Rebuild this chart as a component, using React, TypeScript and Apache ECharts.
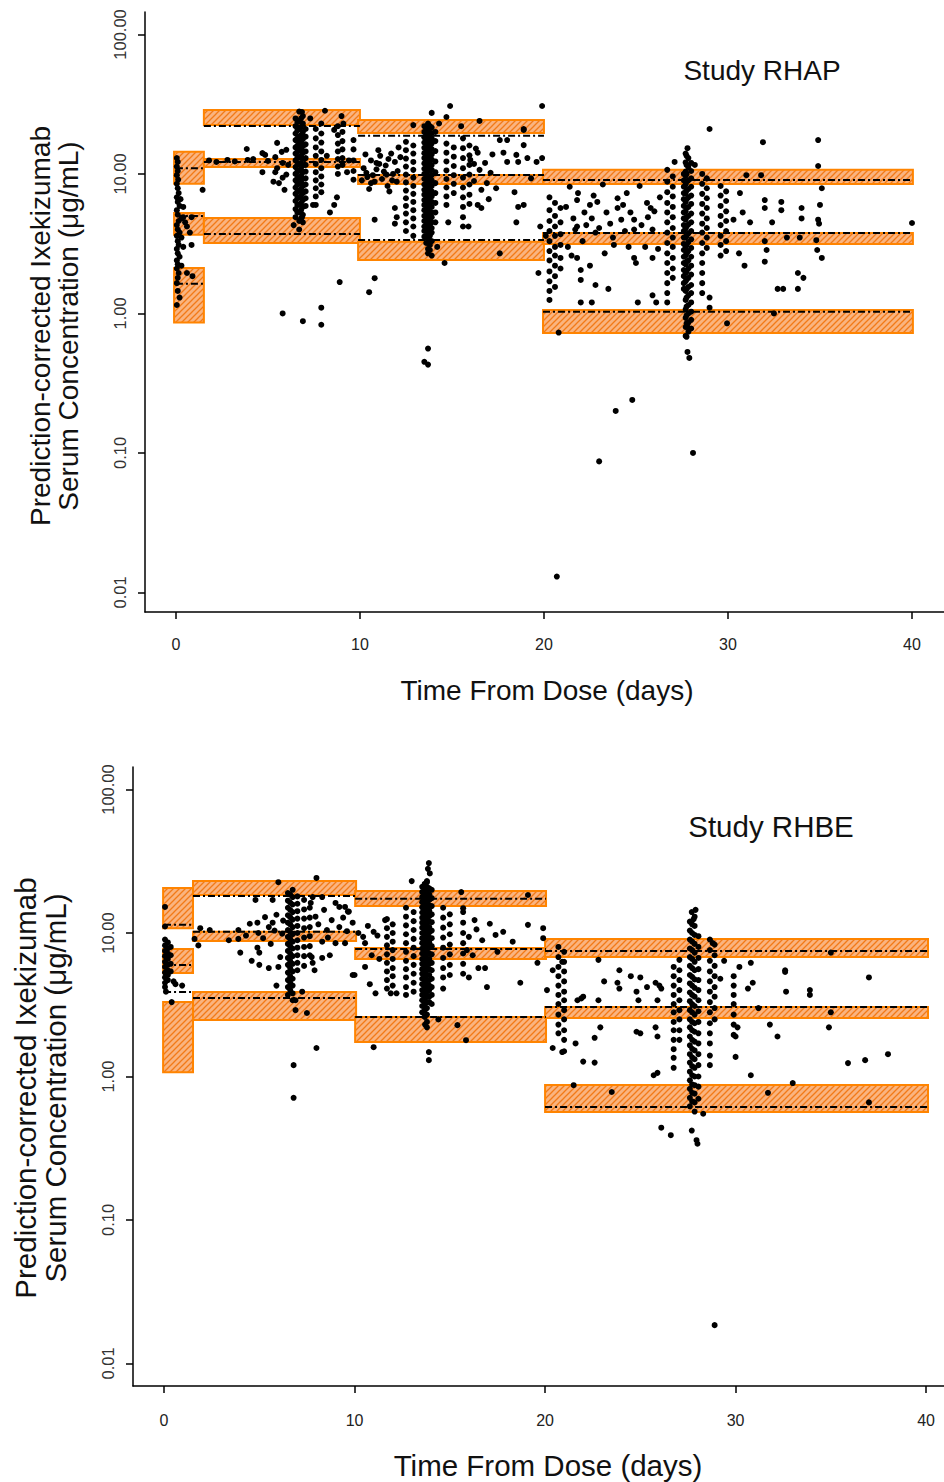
import React, { useEffect, useRef } from "react";
import * as echarts from "echarts";

// ---------- shared axis ticks ----------
const xTickDays = [0, 10, 20, 30, 40];
const yTickConc = [0.01, 0.1, 1, 10, 100];

// ---------- Study RHAP ----------
// prediction-interval bands: [start day, end day, lower conc, upper conc]
const rhapBands = [
  [-0.1, 1.52, 8.5, 14.4], [-0.1, 1.52, 3.66, 5.25], [-0.1, 1.52, 0.86, 2.12],
  [1.52, 10.0, 22.4, 28.8], [1.52, 10.0, 11.2, 12.8], [1.52, 10.0, 3.2, 4.84],
  [9.9, 20.0, 19.7, 24.4], [9.9, 20.0, 8.48, 9.84], [9.9, 20.0, 2.42, 3.26],
  [19.95, 40.05, 8.48, 10.7], [19.95, 40.05, 3.15, 3.78], [19.95, 40.05, 0.724, 1.06],
];
// observed percentiles: [start day, end day, conc]
const rhapObsLines = [
  [0, 1.52, 11.0], [0, 1.52, 5.0], [0, 1.52, 1.63],
  [1.52, 10.0, 22.1], [1.52, 10.0, 12.2], [1.52, 10.0, 3.71],
  [9.9, 20.0, 18.8], [9.9, 20.0, 9.84], [9.9, 20.0, 3.36],
  [19.95, 40.05, 9.06], [19.95, 40.05, 3.78], [19.95, 40.05, 1.03],
];
// individual observations [day, conc]
const rhapPoints = [
  [0.05,13],[0.1,12.2],[0.05,11.3],[0.1,10.5],[0.05,9.8],[0.12,9.1],[0.05,8.5],[0.1,7.9],[0.15,7.3],[0.05,6.8],[0.1,6.3],[0.2,5.9],[0.05,5.5],[0.1,5.1],[0.3,4.8],[0.15,4.6],[0.05,4.3],[0.5,4.5],[0.1,4.0],[0.2,3.8],[0.05,3.6],[0.3,3.5],[0.1,3.3],[0.15,3.1],[0.05,2.9],[0.1,2.7],[0.2,2.55],[0.05,2.4],[0.1,2.25],[0.05,2.1],[0.15,1.95],[0.1,1.8],[0.05,1.65],[0.6,1.95],[0.9,1.85],[0.05,1.15],[0.4,5.8],[0.4,4.9],[0.85,4.9],[0.76,3.8],[0.85,3.1],[0.4,3.0],[0.25,6.6],[1.45,7.7],[0.1,1.45],[0.2,1.3],[0.6,4.2],[0.3,2.2],
  [1.8,12.5],[2.2,12.2],[2.8,12.6],[3.2,12.3],[3.85,15.1],[3.9,12.6],[4.2,12.8],[4.7,14.1],[4.85,13.7],[4.7,10.3],[5.0,12.4],[5.4,13.2],[5.5,16.7],[5.4,10.3],[5.5,11.0],[5.75,14.4],[5.8,12.0],[5.8,9.4],[5.9,7.7],[6.0,14.9],[5.6,8.6],[6.1,11.6],[6.0,9.9],[5.3,8.8],
  [6.85,27.8],[8.1,28.4],[9.0,26],[7.3,25],[7.9,23],[8.6,20.7],[9.1,23],
  [8.6,6.0],[8.75,6.8],[7.45,6.0],[8.37,5.3],[6.4,4.3],[6.85,4.9],[8.9,1.68],[5.8,1.0],[6.9,0.88],[7.9,1.1],[7.9,0.83],[9.3,10.3],[8.2,13.5],[9.4,12.5],
  [10.2,11],[10.4,9.5],[10.6,12.5],[10.8,8.8],[10.9,10.8],[11.1,13.5],[11.2,9.2],[11.4,11.5],[11.5,8.2],[11.7,14],[11.8,10],[11.9,12.2],[12.0,8.8],[12.1,15.5],[10.5,7.8],[11.0,14.8],[11.6,7.5],[10.3,13.8],
  [10.1,9.0],[10.35,10.2],[10.7,9.8],[11.05,11.8],[11.3,10.4],[11.55,12.8],[11.75,9.0],[12.05,10.5],[12.2,13.2],[10.9,12.0],[11.45,9.9],[10.6,8.6],
  [10.8,4.7],[11.9,5.7],[12.0,4.9],[11.9,4.4],[10.8,1.79],[10.5,1.42],
  [14.9,30.7],[13.9,27.4],[19.9,30.7],[14.7,25.6],[12.9,22.4],[18.9,21],[14.3,23],[16.5,24],[15.5,22],
  [13.7,0.56],[13.5,0.45],[13.7,0.43],[14.6,2.3],[19.7,1.95],[13.8,2.85],[13.9,2.6],[14.2,3.0],
  [17.6,17.5],[18.0,17.5],[18.9,16.1],[18.9,20.7],[19.1,13.0],[18.5,13.7],[17.8,14.2],[18.0,12.2],[18.6,12.2],[19.6,12.2],[19.9,13],[18.4,7.4],[18.9,6.0],[18.6,5.8],[18.5,4.5],[17.6,2.7],[19.8,4.2],[16.9,8.6],[17.1,10.2],[16.5,10.7],[17.4,7.9],[16.4,6.0],[16.6,5.7],[16.4,14.2],[16.0,12.6],[14.8,4.5],[15.9,4.2],[16.6,7.7],[19.3,9.3],
  [16.2,11.8],[16.3,15.2],[16.8,12.0],[17.2,13.8],[17.0,6.6],[16.2,8.9],
  [20.8,0.73],[20.7,0.013],[20.1,3.6],
  [21.4,8.1],[21.85,7.3],[21.8,6.5],[22.5,6.0],[22.9,6.3],[21.6,4.8],[21.8,4.2],[21.7,4.0],[22.6,4.8],[22.8,3.8],[23.4,5.3],[24.0,6.7],[24.0,5.7],[23.75,3.5],[24.2,4.7],[24.5,7.3],[24.7,5.3],[24.9,4.7],[24.9,4.0],[25.6,6.2],[25.8,5.7],[25.65,4.9],[25.9,4.0],[24.9,2.5],[25.0,2.3],[25.9,2.5],[21.8,2.5],[21.5,2.6],[22.0,2.05],[22.0,1.74],[22.5,2.2],[22.8,1.6],[22.0,1.2],[22.6,1.2],[23.5,1.5],[25.1,1.2],[25.9,1.35],[26.1,1.2],[23.2,8.4],[25.2,8.2],[22.2,5.3],[23.8,3.1],
  [22.3,4.3],[23.0,4.1],[23.6,4.4],[24.4,3.9],[25.3,4.3],[26.0,5.4],[21.2,5.8],[22.1,3.3],[23.3,2.7],[24.6,3.0],[25.5,3.0],[26.2,2.9],[21.3,3.0],[26.3,6.8],[24.3,6.0],[22.7,7.0],
  [23.0,0.087],[23.9,0.2],[24.8,0.24],[28.1,0.1],
  [30.65,7.3],[31.0,9.8],[31.2,4.5],[31.8,9.8],[32.0,6.5],[32.0,5.7],[32.1,2.85],[32.0,2.35],[32.0,3.3],[30.9,2.2],[32.4,4.5],[32.9,6.3],[32.9,5.5],[33.2,3.5],[32.7,1.5],[33.0,1.5],[33.8,1.5],[33.8,1.95],[34.1,1.8],[33.9,3.5],[34.0,5.7],[34.0,4.8],[34.8,3.35],[34.85,2.85],[35.1,2.5],[34.9,4.7],[34.95,4.4],[35.0,6.0],[35.1,7.9],[34.9,11.4],[40.0,4.45],[29.95,0.85],[32.5,1.0],[29.0,1.3],[29.0,1.1],[31.9,16.9],[34.9,17.5],[29.0,21],[30.8,5.3],[30.3,4.7],[30.6,2.7],[28.2,11.6],[27.8,15.3],[26.7,10.7],[27.1,12.2],
  [27.8,0.8],[27.75,0.68],[27.8,0.53],[27.9,0.48],
];
// clusters of samples taken at (nearly) the same time: day, concentrations
const rhapClusters = [
  { day: 6.5, conc: [25,22,19.5,17.5,15.5,14,12.5,11.2,10,9,8,7.2,6.4,5.6,4.9] },
  { day: 6.6, conc: [23.5,20.5,18,16,14.4,13,11.6,10.4,9.3,8.4,7.5,6.7,6.0,5.3] },
  { day: 6.7, conc: [28,24,21,18.5,16.5,14.8,13.2,11.8,10.6,9.5,8.5,7.6,6.8,6.0,5.3,4.6,4.0] },
  { day: 6.8, conc: [25,21.8,19,16.9,15,13.5,12,10.8,9.7,8.7,7.8,7.0,6.2,5.5,4.8] },
  { day: 6.9, conc: [26,23,20,17.8,15.8,14.2,12.8,11.5,10.3,9.2,8.2,7.3,6.5,5.8,5.1,4.5] },
  { day: 7.05, conc: [21,18.5,16.3,14.5,13,11.6,10.4,9.3,8.4,7.5,6.7,5.9] },
  { day: 7.6, conc: [21,18,15.5,13.5,11.8,10.3,9.0,7.9,6.9,6.0] },
  { day: 7.9, conc: [19.5,16.8,14.5,12.6,11,9.6,8.4,7.4] },
  { day: 8.8, conc: [22,19,16.5,14.5,12.8,11.3,10] },
  { day: 9.05, conc: [20,17.2,15,13,11.6] },
  { day: 9.65, conc: [17.5,15,12.5,10.5,9.1] },
  { day: 12.5, conc: [17,14.8,12.9,11.3,9.9,8.7,7.6,6.7,5.9,5.2,4.5,3.9] },
  { day: 12.9, conc: [16,14,12.2,10.7,9.4,8.2,7.2,6.3,5.5,4.8,4.2,3.6] },
  { day: 13.5, conc: [22,20,18.3,16.8,15.4,14.1,13,11.9,10.9,10,9.2,8.4,7.7,7.1,6.5,6.0,5.5,5.0,4.6,4.2,3.9,3.55] },
  { day: 13.6, conc: [21,18.8,16.9,15.2,13.7,12.3,11.1,10.1,9.2,8.3,7.6,6.9,6.2,5.6,5.1,4.7,4.3,3.9,3.5,3.2] },
  { day: 13.7, conc: [23,21,19.2,17.6,16.1,14.8,13.6,12.4,11.4,10.5,9.6,8.8,8.1,7.4,6.8,6.2,5.7,5.2,4.8,4.4,4.0,3.7,3.4,2.9,2.7] },
  { day: 13.8, conc: [22,19.8,17.8,15.9,14.3,12.9,11.7,10.6,9.6,8.7,7.9,7.1,6.4,5.8,5.3,4.8,4.3,3.95,3.6,3.1] },
  { day: 13.9, conc: [21.5,19.6,18,16.5,15.1,13.8,12.7,11.6,10.7,9.8,9.0,8.2,7.5,6.9,6.3,5.8,5.3,4.9,4.5,4.1,3.8,3.3] },
  { day: 14.1, conc: [20,17.2,14.6,12.3,10.3,8.6,7.3,6.2,5.3,4.5] },
  { day: 14.7, conc: [16.5,14.2,12.3,10.6,9.2,8.0,6.9,6.0] },
  { day: 15.1, conc: [15.5,13.3,11.4,9.8,8.5,7.3] },
  { day: 15.6, conc: [18,15.3,13,11,9.4,8,6.8,5.8,4.9,4.2] },
  { day: 15.95, conc: [16,13.6,11.6,9.9,8.4,7.1,6.1] },
  { day: 20.3, conc: [6.8,5.5,4.6,3.9,3.3,2.8,2.4,2.0,1.7,1.45,1.25] },
  { day: 20.6, conc: [6.2,5.0,4.2,3.6,3.0,2.6,2.2,1.85,1.55] },
  { day: 20.9, conc: [5.7,4.5,3.7,3.1,2.5,2.1] },
  { day: 26.7, conc: [8.8,7.4,6.2,5.3,4.5,3.8,3.2,2.7,2.3,1.95,1.65,1.4,1.2] },
  { day: 27.0, conc: [9.6,8.1,6.9,5.8,4.9,4.1,3.5,3.0,2.5,2.1,1.8] },
  { day: 27.6, conc: [10,9.0,8.1,7.3,6.6,5.9,5.3,4.8,4.3,3.9,3.5,3.15,2.85,2.55,2.3,2.05,1.85,1.65,1.5] },
  { day: 27.7, conc: [14,12.1,10.4,9.7,8.4,7.3,6.3,5.4,4.7,4.05,3.5,3.0,2.6,2.25,1.95,1.7,1.45,1.25,1.07,0.93,0.8,0.69] },
  { day: 27.75, conc: [13.5,11.6,10,8.8,7.6,6.6,5.7,4.9,4.2,3.6,3.1,2.7,2.35,2.0,1.75,1.5,1.3,1.12,0.97,0.85] },
  { day: 27.85, conc: [13,11.2,9.0,7.8,6.8,5.8,5.0,4.35,3.75,3.25,2.8,2.4,2.1,1.8,1.55,1.35,1.15,1.0,0.86,0.74] },
  { day: 28.0, conc: [12,10.5,9.3,8.1,7.0,6.1,5.2,4.5,3.9,3.4,2.95,2.55,2.2,1.9,1.6,1.4,1.2,1.03,0.9,0.78] },
  { day: 28.6, conc: [10,8.5,7.2,6.1,5.2,4.4,3.8,3.2,2.7,2.3,1.95,1.65,1.4] },
  { day: 28.85, conc: [9.3,7.9,6.7,5.7,4.8,4.1,3.5,2.95] },
  { day: 29.6, conc: [8.2,7.0,5.9,5.0,4.3,3.6,3.1,2.6] },
  { day: 29.9, conc: [7.5,6.4,5.4,4.6,3.9,3.3,2.8] },
];

// ---------- Study RHBE ----------
const rhbeBands = [
  [-0.05, 1.52, 10.8, 20.6], [-0.05, 1.52, 5.26, 7.74], [-0.05, 1.52, 1.07, 3.3],
  [1.52, 10.08, 18.4, 23.0], [1.52, 10.08, 8.8, 10.2], [1.52, 10.08, 2.48, 3.88],
  [10.03, 20.05, 15.4, 19.6], [10.03, 20.05, 6.59, 7.85], [10.03, 20.05, 1.74, 2.6],
  [20.0, 40.1, 6.8, 9.08], [20.0, 40.1, 2.56, 3.05], [20.0, 40.1, 0.566, 0.873],
];
const rhbeObsLines = [
  [0, 1.52, 11.4], [0, 1.52, 5.98], [0, 1.52, 3.88],
  [1.52, 10.08, 18.1], [1.52, 10.08, 10.2], [1.52, 10.08, 3.52],
  [10.03, 20.05, 17.3], [10.03, 20.05, 7.74], [10.03, 20.05, 2.6],
  [20.0, 40.1, 7.49], [20.0, 40.1, 3.05], [20.0, 40.1, 0.612],
];
const rhbePoints = [
  [0.05,15.2],[0.05,11.1],[0.4,3.3],[0.95,4.3],[1.8,8.2],[1.6,9.1],[0.1,3.9],[0.5,4.6],[0.6,4.4],
  [4.0,7.3],[3.9,9.1],[4.5,11.6],[4.9,11.8],[4.95,10],[5.3,12.9],[5.5,11.0],[5.7,11.8],[4.9,7.9],[5.0,7.3],[5.0,6.0],[5.5,5.7],[5.9,4.3],[6.0,5.8],[6.1,6.8],[5.9,13.4],[6.0,22.6],[8.0,24.2],[5.7,17.0],[4.8,17.0],[7.5,2.77],[6.9,2.9],[6.9,3.4],[7.25,3.9],[8.0,1.58],[6.8,1.2],[6.8,0.71],[7.7,16.2],[7.8,17.8],[8.3,17.8],[9.0,16.2],[9.2,15.2],[9.7,14.1],[9.9,11.8],[9.9,5.1],[9.5,8.5],[9.0,8.5],[8.7,7.0],[8.3,6.7],[7.8,6.2],[7.75,6.8],[7.9,5.5],[8.3,8.7],[8.55,10.5],[8.8,12.3],[9.2,11.0],[3.9,10.5],[2.4,10.5],[1.9,10.8],[3.4,8.9],[4.6,6.4],[8.4,14.5],[9.4,12.8],
  [5.2,9.2],[5.6,8.4],[4.3,9.6],[6.2,9.9],[6.25,12.2],[5.8,10.4],[8.1,11.5],[8.6,9.3],[9.6,10.3],[7.95,13.0],
  [9.5,15.2],[9.65,14.1],[10.0,5.1],[10.45,9.4],[10.55,5.8],[11.1,3.8],[11.9,3.8],[12.2,3.8],[10.9,7.0],[10.55,8.5],[11.0,1.6],[10.2,10.0],[11.6,12.3],[10.7,11.2],[11.2,9.6],
  [13.9,30.7],[13.95,26],[13.0,23],[13.8,22.6],[15.6,19.3],[19.1,18.4],[13.85,28],
  [17.1,11.6],[17.8,10.2],[17.4,9.7],[18.3,8.7],[16.7,8.9],[16.85,5.7],[16.5,5.7],[16.95,4.2],[18.7,4.5],[19.1,11.4],[19.9,10.8],[19.9,9.2],[19.6,6.2],[15.85,1.79],[13.9,1.48],[13.9,1.3],[15.4,2.28],[15.7,14.9],[16.0,9.4],[15.9,7.6],[16.0,4.9],[14.4,2.5],[13.7,2.3],[17.5,7.4],
  [16.3,12.3],[16.2,7.0],[16.4,10.6],[11.0,10.2],[11.3,6.6],[10.8,4.4],
  [20.1,4.0],[20.4,5.5],[20.9,6.3],[20.9,1.48],[20.4,1.58],
  [22.0,1.27],[22.6,1.25],[21.6,1.7],[22.9,2.2],[22.6,1.86],[21.9,3.5],[22.8,3.4],[23.9,5.5],[23.8,4.5],[23.9,4.1],[24.8,3.9],[24.9,3.4],[25.0,4.9],[25.35,4.2],[24.8,2.05],[25.0,2.0],[25.8,4.5],[25.9,3.4],[25.8,2.2],[25.9,1.9],[25.7,1.02],[25.9,1.06],[22.8,6.5],[21.5,0.87],[23.5,0.78],[26.1,0.44],[26.6,0.39],[22.0,3.6],[21.7,3.4],[26.0,4.3],[26.1,4.1],[24.5,5.0],[23.1,4.6],
  [27.7,0.42],[27.95,0.36],[28.0,0.34],[28.3,0.55],[28.9,0.0185],
  [30.2,5.8],[30.8,6.2],[30.9,4.5],[30.65,4.1],[30.1,2.2],[30.0,1.9],[31.8,2.3],[32.2,1.9],[32.6,5.35],[32.65,3.9],[30.0,1.37],[30.8,1.02],[31.7,0.77],[33.0,0.9],[33.9,4.0],[33.9,3.7],[35.0,2.8],[34.9,2.2],[37.0,4.9],[35.9,1.24],[36.8,1.3],[38.0,1.43],[37.0,0.66],[32.6,5.5],[35.0,7.3],[28.8,8.5],[27.7,14],[27.9,14.5],[27.8,12.5],[29.4,6.4],[29.2,4.8],[31.2,3.0],
];
const rhbeClusters = [
  { day: 0.05, conc: [9.0,8.2,7.5,6.9,6.3,5.8,5.3,4.9,4.5,4.2] },
  { day: 0.2, conc: [8.6,7.8,7.2,6.6,6.0,5.5,5.1,4.7] },
  { day: 0.35, conc: [8.0,7.0,6.1,5.4] },
  { day: 6.5, conc: [19,16.8,15,13.3,11.8,10.5,9.4,8.4,7.5,6.7,6.0,5.3,4.7,4.2,3.7] },
  { day: 6.62, conc: [18.5,16.3,14.5,12.9,11.5,10.2,9.1,8.1,7.2,6.4,5.7,5.0,4.5,4.0] },
  { day: 6.75, conc: [20,17.8,15.8,14,12.4,11,9.8,8.7,7.8,6.9,6.1,5.4,4.8,4.3,3.8,3.4] },
  { day: 7.0, conc: [18,16,14.2,12.6,11.2,10,8.9,7.9,7.0,6.2,5.5] },
  { day: 7.35, conc: [17,14.6,12.6,10.8,9.3,8.0,6.9,5.9] },
  { day: 7.65, conc: [15,12.8,11,9.5,8.1,7.0] },
  { day: 11.7, conc: [12.5,10.8,9.4,8.2,7.1,6.2,5.4,4.7,4.1] },
  { day: 12.0, conc: [11.5,10,8.7,7.6,6.6,5.7,5.0,4.3] },
  { day: 12.7, conc: [15,13,11.3,9.8,8.5,7.4,6.4,5.6,4.9,4.2,3.7] },
  { day: 13.1, conc: [14,12.1,10.5,9.1,7.9,6.9,6.0,5.2,4.5,3.9] },
  { day: 13.55, conc: [21,19.3,17.8,16.4,15.1,13.9,12.8,11.8,10.9,10,9.2,8.5,7.8,7.2,6.6,6.1,5.6,5.2,4.8,4.4,4.0,3.7,3.4,3.1,2.8] },
  { day: 13.68, conc: [22,20,18.5,17,15.7,14.5,13.3,12.3,11.3,10.4,9.6,8.8,8.1,7.5,6.9,6.3,5.8,5.35,4.9,4.5,4.15,3.8,3.5,3.2,2.9,2.6] },
  { day: 13.8, conc: [23,21,19.4,17.8,16.4,15.1,13.9,12.8,11.8,10.8,9.9,9.1,8.4,7.7,7.1,6.5,6.0,5.5,5.1,4.7,4.3,3.9,3.6,3.3,3.0,2.7,2.4,2.2] },
  { day: 13.92, conc: [20.5,18.6,17,15.6,14.3,13.1,12,11,10.1,9.3,8.6,7.9,7.2,6.6,6.1,5.6,5.1,4.7,4.3,4.0,3.6,3.3] },
  { day: 14.05, conc: [20,17.5,15.4,13.5,11.9,10.4,9.2,8.1,7.1,6.2,5.5,4.8,4.2,3.7,3.2] },
  { day: 14.65, conc: [15,12.8,10.9,9.3,7.9,6.7,5.7,4.9,4.1] },
  { day: 15.0, conc: [13.5,11.5,9.8,8.3,7.1,6.0,5.1] },
  { day: 15.7, conc: [14,11.8,10,8.5,7.2,6.1,5.2] },
  { day: 20.7, conc: [8.0,6.8,5.8,5.0,4.3,3.7,3.2,2.7,2.3,2.0] },
  { day: 21.0, conc: [7.4,6.3,5.4,4.6,3.9,3.4,2.9,2.5,2.1,1.8,1.5] },
  { day: 26.75, conc: [5.8,5.0,4.3,3.7,3.2,2.8,2.4,2.1,1.8,1.55,1.35,1.15] },
  { day: 27.05, conc: [6.5,5.5,4.7,4.0,3.4,2.9,2.5,2.1,1.8] },
  { day: 27.6, conc: [12,10.4,9.0,7.8,6.8,5.9,5.1,4.45,3.85,3.35,2.9,2.5,2.2,1.9,1.65,1.43,1.25,1.08,0.94,0.82,0.71,0.62] },
  { day: 27.72, conc: [11.5,10,8.7,7.6,6.6,5.7,4.95,4.3,3.7,3.2,2.8,2.4,2.1,1.8,1.56,1.36,1.18,1.02,0.88,0.77,0.67] },
  { day: 27.85, conc: [13,11.2,9.7,8.4,7.3,6.3,5.5,4.75,4.15,3.6,3.1,2.7,2.35,2.05,1.75,1.52,1.32,1.15,1.0,0.87,0.76,0.66,0.57] },
  { day: 28.05, conc: [9.5,8.0,6.7,5.6,4.7,4.0,3.4,2.85,2.4,2.0,1.7,1.43,1.2,1.0,0.85,0.7] },
  { day: 28.65, conc: [9.0,7.6,6.4,5.4,4.6,3.9,3.3,2.8,2.35,2.0,1.7,1.4,1.2] },
  { day: 28.9, conc: [8.3,7.0,5.9,5.0,4.2,3.6,3.0,2.5] },
  { day: 29.9, conc: [5.0,4.3,3.7,3.2,2.7,2.3,1.95] },
];

const FONT = '"Liberation Sans", Arial, Helvetica, sans-serif';
const lg = (v: number) => Math.log10(v);

function makeHatch(): any {
  const c = document.createElement("canvas");
  c.width = 6;
  c.height = 6;
  const g = c.getContext("2d")!;
  g.fillStyle = "#fab47f";
  g.fillRect(0, 0, 6, 6);
  g.strokeStyle = "#f27a18";
  g.lineWidth = 1.3;
  g.beginPath();
  g.moveTo(-1, 7); g.lineTo(7, -1);
  g.moveTo(-4, 4); g.lineTo(4, -4);
  g.moveTo(2, 10); g.lineTo(10, 2);
  g.stroke();
  return { image: c, repeat: "repeat" };
}

function buildPanel(
  idx: number,
  bands: number[][],
  lines: number[][],
  pts: number[][],
  clusters: { day: number; conc: number[] }[],
  hatch: any
) {
  const all = pts.concat(
    clusters.reduce((acc: number[][], c) => acc.concat(c.conc.map((v) => [c.day, v])), [])
  );
  return [
    {
      type: "custom",
      xAxisIndex: idx,
      yAxisIndex: idx,
      z: 1,
      silent: true,
      encode: { x: [0, 1], y: [2, 3] },
      data: bands.map((b) => [b[0], b[1], lg(b[2]), lg(b[3])]),
      renderItem: (_p: any, api: any) => {
        const a = api.coord([api.value(0), api.value(3)]);
        const b = api.coord([api.value(1), api.value(2)]);
        return {
          type: "rect",
          shape: { x: a[0], y: a[1], width: b[0] - a[0], height: b[1] - a[1] },
          style: { fill: hatch, stroke: "#ff8400", lineWidth: 2 },
        };
      },
    },
    {
      type: "custom",
      xAxisIndex: idx,
      yAxisIndex: idx,
      z: 2,
      silent: true,
      encode: { x: [0, 1], y: 2 },
      data: lines.map((l) => [l[0], l[1], lg(l[2])]),
      renderItem: (_p: any, api: any) => {
        const a = api.coord([api.value(0), api.value(2)]);
        const b = api.coord([api.value(1), api.value(2)]);
        return {
          type: "line",
          shape: { x1: a[0], y1: a[1], x2: b[0], y2: b[1] },
          style: { stroke: "#000", lineWidth: 2, lineDash: [7, 3, 2, 3] },
        };
      },
    },
    {
      type: "scatter",
      xAxisIndex: idx,
      yAxisIndex: idx,
      z: 3,
      symbol: "circle",
      symbolSize: 6,
      itemStyle: { color: "#000", opacity: 1 },
      data: all.map((p) => [p[0], lg(p[1])]),
    },
  ];
}

function xAxisCfg(idx: number, min: number, max: number, margin: number) {
  return {
    type: "value",
    gridIndex: idx,
    min,
    max,
    axisLine: { show: true, onZero: false, lineStyle: { color: "#000", width: 1.5 } },
    axisTick: { show: true, length: 7, customValues: xTickDays, lineStyle: { color: "#000", width: 1.5 } },
    axisLabel: { customValues: xTickDays, margin, fontSize: 16, fontFamily: FONT, color: "#222" },
    splitLine: { show: false },
  };
}

function yAxisCfg(idx: number, min: number, max: number) {
  const vals = yTickConc.map(lg);
  return {
    type: "value",
    gridIndex: idx,
    min,
    max,
    axisLine: { show: true, onZero: false, lineStyle: { color: "#000", width: 1.5 } },
    axisTick: { show: true, length: 7, customValues: vals, lineStyle: { color: "#000", width: 1.5 } },
    axisLabel: {
      customValues: vals,
      rotate: 90,
      margin: 17,
      fontSize: 16.5,
      fontFamily: FONT,
      color: "#333",
      formatter: (v: number) => Math.pow(10, v).toFixed(2),
    },
    splitLine: { show: false },
  };
}

function txt(x: number, y: number, text: string, size: number, rot = 0, lh = 0) {
  return {
    type: "text",
    x,
    y,
    rotation: rot,
    silent: true,
    style: {
      text,
      fontSize: size,
      fontFamily: FONT,
      fill: "#111",
      align: "center",
      verticalAlign: "middle",
      textAlign: "center",
      textVerticalAlign: "middle",
      lineHeight: lh || size,
    },
  };
}

export default function App() {
  const ref = useRef<HTMLDivElement>(null);
  useEffect(() => {
    const chart = echarts.init(ref.current!, null, { renderer: "svg" });
    const hatch = makeHatch();
    const option: any = {
      animation: false,
      backgroundColor: "#fff",
      grid: [
        { left: 145, top: 12, width: 799, height: 600 },
        { left: 133, top: 767, width: 811, height: 619 },
      ],
      xAxis: [xAxisCfg(0, -1.68, 41.74, 24), xAxisCfg(1, -1.63, 40.94, 26)],
      yAxis: [yAxisCfg(0, -2.14, 2.161), yAxisCfg(1, -2.157, 2.157)],
      series: [
        ...buildPanel(0, rhapBands, rhapObsLines, rhapPoints, rhapClusters, hatch),
        ...buildPanel(1, rhbeBands, rhbeObsLines, rhbePoints, rhbeClusters, hatch),
      ],
      graphic: [
        txt(54, 326, "Prediction-corrected Ixekizumab\nSerum Concentration (μg/mL)", 28, Math.PI / 2, 28),
        txt(547, 690, "Time From Dose (days)", 28),
        txt(762, 70, "Study RHAP", 28),
        txt(40, 1088, "Prediction-corrected Ixekizumab\nSerum Concentration (μg/mL)", 29.5, Math.PI / 2, 30),
        txt(548, 1465, "Time From Dose (days)", 29.5),
        txt(771, 826, "Study RHBE", 29.5),
      ],
    };
    chart.setOption(option);
    return () => chart.dispose();
  }, []);
  return (
    <div
      ref={ref}
      style={{ position: "absolute", left: 0, top: 0, width: 944, height: 1482, background: "#fff" }}
    />
  );
}
